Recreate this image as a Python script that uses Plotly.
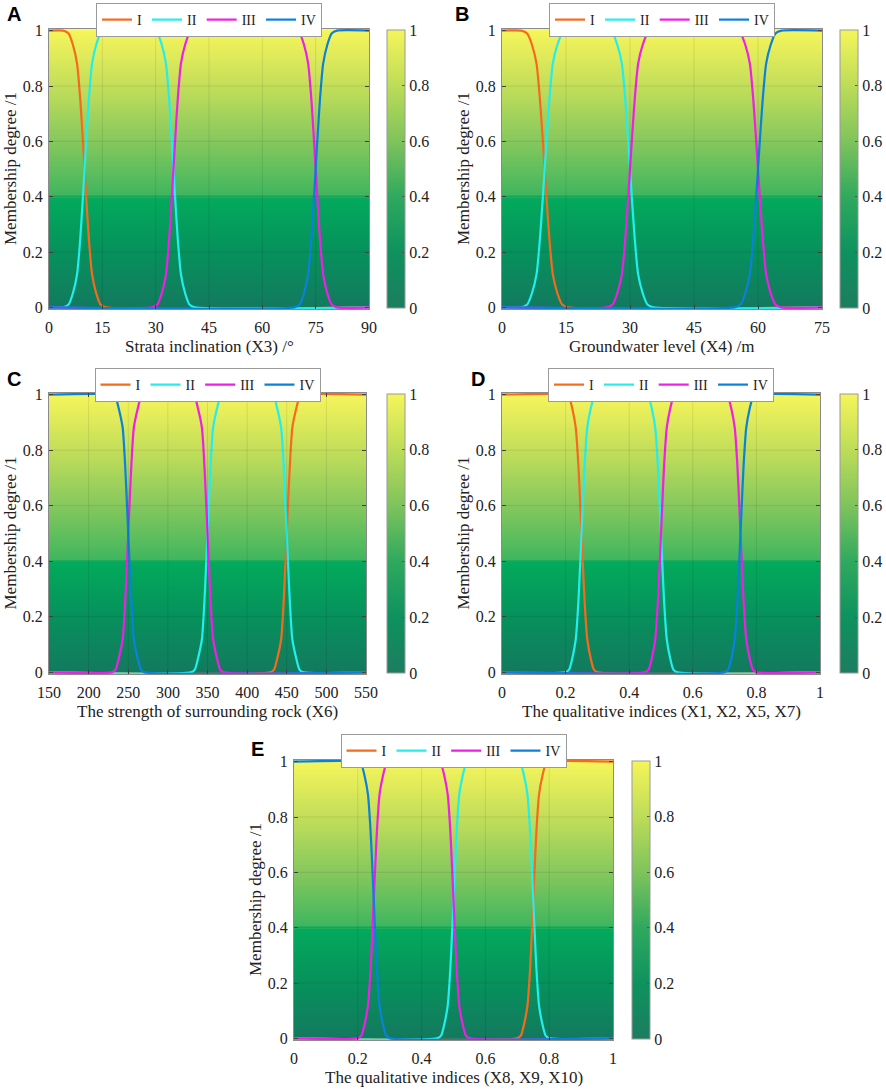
import plotly.graph_objects as go

W, H = 886, 1089
SERIF = "Liberation Serif"

# membership level across one edge (0 -> 1)
Y_RISE = [0, 0.01, 0.05, 0.12, 0.25, 0.37, 0.5, 0.63, 0.75, 0.88, 0.95, 0.99, 1]
Y_FALL = Y_RISE[::-1]

# A - strata inclination, edges near 10, 35, 75 deg
A_E10 = [4, 5.5, 6.7, 7.9, 8.8, 9.4, 10, 10.6, 11.2, 12.1, 13.3, 14.5, 16]
A_E35 = [29, 30.5, 31.7, 32.9, 33.8, 34.4, 35, 35.6, 36.2, 37.1, 38.3, 39.5, 41]
A_E75 = [69, 70.5, 71.7, 72.9, 73.8, 74.4, 75, 75.6, 76.2, 77.1, 78.3, 79.5, 81]

# B - groundwater level, edges near 10, 30, 60 m
B_E10 = [4.5, 5.9, 7, 8.1, 8.9, 9.45, 10, 10.55, 11.1, 11.9, 13, 14.1, 15.5]
B_E30 = [24.5, 25.9, 27, 28.1, 28.9, 29.45, 30, 30.55, 31.1, 31.9, 33, 34.1, 35.5]
B_E60 = [54.5, 55.9, 57, 58.1, 58.9, 59.45, 60, 60.55, 61.1, 61.9, 63, 64.1, 65.5]

# C - strength of surrounding rock, edges near 250, 350, 450
C_E250 = [229, 234, 238, 243, 246, 248, 250, 252, 254, 257, 262, 266, 271]
C_E350 = [329, 334, 338, 343, 346, 348, 350, 352, 354, 357, 362, 366, 371]
C_E450 = [429, 434, 438, 443, 446, 448, 450, 452, 454, 457, 462, 466, 471]

# D / E - qualitative indices, edges near 0.25, 0.5, 0.75
Q_E25 = [0.198, 0.211, 0.221, 0.232, 0.24, 0.245, 0.25, 0.255, 0.26, 0.268, 0.279, 0.289, 0.302]
Q_E50 = [0.448, 0.461, 0.471, 0.482, 0.49, 0.495, 0.5, 0.505, 0.51, 0.518, 0.529, 0.539, 0.552]
Q_E75 = [0.698, 0.711, 0.721, 0.732, 0.74, 0.745, 0.75, 0.755, 0.76, 0.768, 0.779, 0.789, 0.802]

GRADES = ["I", "II", "III", "IV"]
COLORS = ["#F66A1E", "#22EEEE", "#F01EE6", "#0A82DC"]

Y_TICKS = [0, 0.2, 0.4, 0.6, 0.8, 1]
Y_TICKTEXT = ["0", "0.2", "0.4", "0.6", "0.8", "1"]

A_TICKS = [0, 15, 30, 45, 60, 75, 90]
B_TICKS = [0, 15, 30, 45, 60, 75]
C_TICKS = [150, 200, 250, 300, 350, 400, 450, 500, 550]
Q_TICKS = [0, 0.2, 0.4, 0.6, 0.8, 1]
Q_TICKTEXT = ["0", "0.2", "0.4", "0.6", "0.8", "1"]

BG_SCALE = [[0, "#137A5E"], [0.2, "#06915C"], [0.395, "#03AA5C"], [0.405, "#40B65E"],
            [0.6, "#86C85D"], [0.8, "#C3DE5A"], [1, "#F6F55A"]]
CBAR_SCALE = [[0, "#1C7D60"], [0.2, "#0E925E"], [0.4, "#2FA95E"], [0.6, "#7FC35C"],
              [0.8, "#BDDC58"], [1, "#F5F55A"]]


def low_to_high(lo, hi, first, *edges):
    """Stitch plateau ends and edge samples into one curve."""
    xs, ys, level = [lo], [first], first
    for e in edges:
        xs += e
        ys += Y_FALL if level == 1 else Y_RISE
        level = 1 - level
    xs.append(hi)
    ys.append(level)
    return xs, ys


panels = [
    dict(letter="A", box=(49, 29, 369, 309), cbar=387, leg=3, let_xy=(5, 1),
         rng=[0, 90], ticks=A_TICKS, ticktext=[str(t) for t in A_TICKS],
         title="Strata inclination (X3) /°",
         curves=[low_to_high(0, 90, 1, A_E10), low_to_high(0, 90, 0, A_E10, A_E35),
                 low_to_high(0, 90, 0, A_E35, A_E75), low_to_high(0, 90, 0, A_E75)]),
    dict(letter="B", box=(502, 29, 822, 309), cbar=840, leg=3, let_xy=(453, 1),
         rng=[0, 75], ticks=B_TICKS, ticktext=[str(t) for t in B_TICKS],
         title="Groundwater level (X4) /m",
         curves=[low_to_high(0, 75, 1, B_E10), low_to_high(0, 75, 0, B_E10, B_E30),
                 low_to_high(0, 75, 0, B_E30, B_E60), low_to_high(0, 75, 0, B_E60)]),
    dict(letter="C", box=(49, 393, 366, 674), cbar=387, leg=368, let_xy=(5, 366),
         rng=[150, 550], ticks=C_TICKS, ticktext=[str(t) for t in C_TICKS],
         title="The strength of surrounding rock (X6)",
         curves=[low_to_high(150, 550, 0, C_E450), low_to_high(150, 550, 0, C_E350, C_E450),
                 low_to_high(150, 550, 0, C_E250, C_E350), low_to_high(150, 550, 1, C_E250)]),
    dict(letter="D", box=(502, 393, 820, 674), cbar=840, leg=368, let_xy=(469, 366),
         rng=[0, 1], ticks=Q_TICKS, ticktext=Q_TICKTEXT,
         title="The qualitative indices (X1, X2, X5, X7)",
         curves=[low_to_high(0, 1, 1, Q_E25), low_to_high(0, 1, 0, Q_E25, Q_E50),
                 low_to_high(0, 1, 0, Q_E50, Q_E75), low_to_high(0, 1, 0, Q_E75)]),
    dict(letter="E", box=(294, 760, 613, 1040), cbar=632, leg=734, let_xy=(249, 736),
         rng=[0, 1], ticks=Q_TICKS, ticktext=Q_TICKTEXT,
         title="The qualitative indices (X8, X9, X10)",
         curves=[low_to_high(0, 1, 0, Q_E75), low_to_high(0, 1, 0, Q_E50, Q_E75),
                 low_to_high(0, 1, 0, Q_E25, Q_E50), low_to_high(0, 1, 1, Q_E25)]),
]

levels = [i / 100 for i in range(101)]

fig = go.Figure()
layout = dict(width=W, height=H, margin=dict(l=0, r=0, t=0, b=0, autoexpand=False),
              paper_bgcolor="white", plot_bgcolor="white", showlegend=True)
annotations, shapes = [], []

for i, p in enumerate(panels):
    n = "" if i == 0 else str(i + 1)
    xr, yr = "x" + n, "y" + n
    leg = "legend" + n
    l, t, r, b = p["box"]
    lo, hi = p["rng"]

    # gradient background
    fig.add_trace(go.Heatmap(x=[lo, hi], y=levels, z=[[v, v] for v in levels],
                             colorscale=BG_SCALE, zmin=0, zmax=1, showscale=False,
                             hoverinfo="skip", xaxis=xr, yaxis=yr))
    # colorbar
    fig.add_trace(go.Scatter(
        x=[lo], y=[0], mode="markers", xaxis=xr, yaxis=yr, showlegend=False, hoverinfo="skip",
        marker=dict(size=1, opacity=0, color=[0], cmin=0, cmax=1, colorscale=CBAR_SCALE,
                    showscale=True,
                    colorbar=dict(x=p["cbar"] / W, xanchor="left", xpad=0, ypad=0,
                                  y=1 - (t + b) / 2 / H, yanchor="middle",
                                  lenmode="pixels", len=b - t - 2, thickness=18,
                                  outlinecolor="#9a9a9a", outlinewidth=1,
                                  tickvals=Y_TICKS, ticktext=Y_TICKTEXT,
                                  ticks="inside", ticklen=3, tickcolor="#555",
                                  tickfont=dict(family=SERIF, size=16, color="#222")))))
    for name, color, (xs, ys) in zip(GRADES, COLORS, p["curves"]):
        fig.add_trace(go.Scatter(x=xs, y=ys, mode="lines", name=name, legend=leg,
                                 line=dict(color=color, width=2.2, shape="spline", smoothing=0.6),
                                 xaxis=xr, yaxis=yr))

    axis_common = dict(showline=True, linecolor="rgba(90,90,90,0.7)", linewidth=1,
                       mirror="ticks", ticks="inside", ticklen=4, tickcolor="#444",
                       showgrid=False, zeroline=False, layer="above traces",
                       tickfont=dict(family=SERIF, size=16, color="#222"))
    layout["xaxis" + n] = dict(axis_common, domain=[l / W, r / W], anchor=yr, range=[lo, hi],
                               tickvals=p["ticks"], ticktext=p["ticktext"], ticklabelstandoff=4)
    layout["yaxis" + n] = dict(axis_common, domain=[1 - b / H, 1 - t / H], anchor=xr,
                               range=[-0.006, 1.006], tickvals=Y_TICKS, ticktext=Y_TICKTEXT,
                               ticklabelstandoff=2)
    layout[leg] = dict(orientation="h", x=(l + r) / 2 / W, xanchor="center",
                       y=1 - p["leg"] / H, yanchor="top", bgcolor="white",
                       bordercolor="#9a9a9a", borderwidth=1,
                       font=dict(family=SERIF, size=14, color="#222"),
                       itemwidth=30, tracegroupgap=0)

    # faint grid drawn over the background
    for v in p["ticks"][1:-1]:
        shapes.append(dict(type="line", xref=xr, yref=yr + " domain", x0=v, x1=v, y0=0, y1=1,
                           line=dict(color="rgba(0,0,0,0.09)", width=1), layer="above"))
    for v in Y_TICKS[1:-1]:
        shapes.append(dict(type="line", xref=xr + " domain", yref=yr, x0=0, x1=1, y0=v, y1=v,
                           line=dict(color="rgba(0,0,0,0.09)", width=1), layer="above"))

    annotations.append(dict(text=p["title"], xref="paper", yref="paper", showarrow=False,
                            x=(l + r) / 2 / W, y=1 - (b + 37) / H, xanchor="center", yanchor="middle",
                            font=dict(family=SERIF, size=17, color="#222")))
    annotations.append(dict(text="Membership degree /1", xref="paper", yref="paper",
                            showarrow=False, textangle=-90,
                            x=(l - 39) / W, y=1 - (t + b) / 2 / H, xanchor="center", yanchor="middle",
                            font=dict(family=SERIF, size=17, color="#222")))
    annotations.append(dict(text="<b>" + p["letter"] + "</b>", xref="paper", yref="paper",
                            showarrow=False, x=p["let_xy"][0] / W, y=1 - p["let_xy"][1] / H,
                            xanchor="left", yanchor="top",
                            font=dict(family="Liberation Sans", size=20, color="black")))

layout["annotations"] = annotations
layout["shapes"] = shapes
fig.update_layout(**layout)

# drop the default page margin so the figure sits at the window's top-left corner
fig.write_html("out.html", config={"displayModeBar": False},
               post_script="document.body.style.margin='0';")
